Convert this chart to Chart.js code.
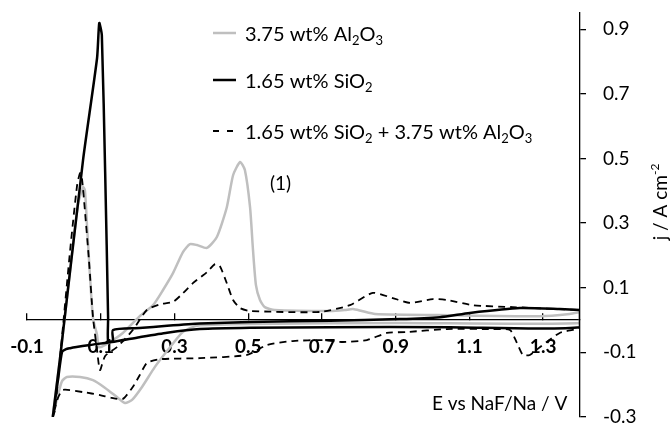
<!DOCTYPE html>
<html>
<head>
<meta charset="utf-8">
<script src="https://cdn.jsdelivr.net/npm/chart.js@4.4.1/dist/chart.umd.min.js"></script>
<style>
  html, body { margin: 0; padding: 0; background: #fff; }
</style>
</head>
<body>
<canvas id="cv" width="670" height="425"></canvas>
<script>
// --- Data ---
const seriesNames = ['3.75 wt% Al_{2}O_{3}', '1.65 wt% SiO_{2}', '1.65 wt% SiO_{2} + 3.75 wt% Al_{2}O_{3}'];
const xTicks = [-0.1, 0.1, 0.3, 0.5, 0.7, 0.9, 1.1, 1.3];
const yTicks = [-0.3, -0.1, 0.1, 0.3, 0.5, 0.7, 0.9];
const xTitle = 'E vs NaF/Na / V';
const yTitle = 'j / A cm^{-2}';
const peakNote = '(1)';

// 3.75 wt% Al2O3 (grey)
const alE = [1.4, 1.4, 0.911, 0.505, 0.369, 0.342, 0.320, 0.282, 0.247, 0.212, 0.185, 0.166, 0.147, 0.112, 0.079, 0.044, 0.008, -0.005, -0.016, -0.030,
  -0.011, 0.017, 0.038, 0.052, 0.057, 0.063, 0.071, 0.079, 0.090, 0.095, 0.112, 0.160, 0.206, 0.242, 0.269, 0.296, 0.323, 0.342, 0.361, 0.388, 0.415, 0.442, 0.459, 0.478, 0.491, 0.505, 0.513, 0.521, 0.532, 0.545, 0.572, 0.722, 0.762, 0.784, 0.808, 0.844, 1.047, 1.291, 1.372, 1.4];
const alJ = [0.025, -0.009, -0.009, -0.012, -0.016, -0.025, -0.040, -0.093, -0.145, -0.207, -0.247, -0.257, -0.241, -0.210, -0.186, -0.176, -0.176, -0.189, -0.232, -0.300,
  -0.124, 0.155, 0.356, 0.411, 0.402, 0.288, 0.133, 0.006, -0.046, -0.084, -0.077, -0.040, 0.012, 0.046, 0.093, 0.145, 0.210, 0.235, 0.232, 0.223, 0.257, 0.349, 0.448, 0.489, 0.464, 0.349, 0.217, 0.108, 0.062, 0.040, 0.031, 0.028, 0.031, 0.034, 0.028, 0.019, 0.015, 0.012, 0.019, 0.025];

// 1.65 wt% SiO2 (black solid)
const siE = [1.4, 1.4, 1.047, 0.722, 0.505, 0.369, 0.280, 0.205, 0.130, 0.071, 0.030, 0.017, 0.006, -0.005, -0.016, -0.030,
  -0.011, 0.052, 0.090, 0.096, 0.103, 0.112, 0.120, 0.120, 0.133, 0.133, 0.205, 0.280, 0.369, 0.505, 0.722, 0.911, 1.020, 1.101, 1.237, 1.345, 1.4];
const siJ = [0.031, -0.022, -0.022, -0.022, -0.024, -0.028, -0.039, -0.053, -0.068, -0.077, -0.084, -0.087, -0.090, -0.099, -0.186, -0.300,
  -0.124, 0.495, 0.810, 0.919, 0.881, 0.458, 0.006, -0.065, -0.065, -0.031, -0.025, -0.018, -0.011, -0.006, -0.002, 0.003, 0.009, 0.022, 0.037, 0.034, 0.031];

// 1.65 wt% SiO2 + 3.75 wt% Al2O3 (dashed)
const mixE = [1.4, 1.4, 1.345, 1.291, 1.264, 1.245, 1.229, 1.210, 1.164, 1.039, 0.930, 0.876, 0.822, 0.757, 0.703, 0.621, 0.551, 0.497, 0.369, 0.261, 0.225, 0.206, 0.187, 0.160, 0.130, 0.098, 0.052, -0.002, -0.016, -0.030,
  -0.024, -0.002, 0.017, 0.036, 0.044, 0.049, 0.057, 0.068, 0.079, 0.090, 0.098, 0.112, 0.144, 0.187, 0.225, 0.261, 0.296, 0.323, 0.350, 0.388, 0.410, 0.423, 0.442, 0.459, 0.478, 0.505, 0.694, 0.776, 0.838, 0.892, 0.939, 1.001, 1.039, 1.109, 1.218, 1.4];
const mixJ = [0.031, -0.022, -0.040, -0.084, -0.108, -0.108, -0.071, -0.031, -0.028, -0.028, -0.037, -0.040, -0.062, -0.068, -0.062, -0.065, -0.077, -0.108, -0.118, -0.121, -0.133, -0.170, -0.207, -0.244, -0.241, -0.232, -0.223, -0.216, -0.241, -0.300,
  -0.278, -0.015, 0.216, 0.418, 0.455, 0.439, 0.340, 0.186, 0.009, -0.093, -0.155, -0.111, -0.084, -0.031, 0.031, 0.049, 0.056, 0.083, 0.114, 0.148, 0.173, 0.167, 0.114, 0.062, 0.037, 0.028, 0.025, 0.046, 0.084, 0.068, 0.053, 0.065, 0.062, 0.046, 0.040, 0.031];

const pts = (xs, ys) => xs.map((x, i) => ({ x: x, y: ys[i] }));
const FONT = 'Lato';

// small helper: text with _{sub} and ^{sup}
function richParts(s) {
  const parts = [];
  const re = /([_^])\{([^}]*)\}/g;
  let last = 0, m;
  while ((m = re.exec(s))) {
    if (m.index > last) parts.push({ t: s.slice(last, m.index), k: 'n' });
    parts.push({ t: m[2], k: m[1] === '_' ? 'sub' : 'sup' });
    last = re.lastIndex;
  }
  if (last < s.length) parts.push({ t: s.slice(last), k: 'n' });
  return parts;
}
function drawRich(ctx, s, x, y, size, align) {
  const parts = richParts(s);
  const small = Math.round(size * 0.65);
  let w = 0;
  parts.forEach(p => {
    ctx.font = (p.k === 'n' ? size : small) + 'px ' + FONT;
    p.w = ctx.measureText(p.t).width;
    w += p.w;
  });
  let cx = align === 'center' ? x - w / 2 : x;
  parts.forEach(p => {
    ctx.font = (p.k === 'n' ? size : small) + 'px ' + FONT;
    const dy = p.k === 'sub' ? size * 0.22 : p.k === 'sup' ? -size * 0.42 : 0;
    ctx.fillText(p.t, cx, y + dy);
    cx += p.w;
  });
}

const textPlugin = {
  id: 'texts',
  afterDraw(chart) {
    const ctx = chart.ctx;
    ctx.save();
    ctx.fillStyle = '#000';
    ctx.textBaseline = 'alphabetic';
    ctx.textAlign = 'left';

    // legend
    const rows = [33, 80, 131];
    chart.data.datasets.forEach((ds, i) => {
      ctx.strokeStyle = ds.borderColor;
      ctx.lineWidth = ds.borderWidth;
      ctx.setLineDash(ds.borderDash ? [6, 8] : []);
      ctx.beginPath();
      ctx.moveTo(213, rows[i]);
      ctx.lineTo(236, rows[i]);
      ctx.stroke();
      ctx.setLineDash([]);
      drawRich(ctx, seriesNames[i], 245, rows[i] + 7.5, 20, 'left');
    });

    drawRich(ctx, peakNote, 270, 190, 19, 'left');
    drawRich(ctx, xTitle, 432, 410, 19, 'left');

    ctx.translate(667, 202);
    ctx.rotate(-Math.PI / 2);
    drawRich(ctx, yTitle, 0, 0, 19, 'center');
    ctx.restore();
  }
};

new Chart(document.getElementById('cv').getContext('2d'), {
  type: 'scatter',
  data: {
    datasets: [
      { label: '3.75 wt% Al2O3', data: pts(alE, alJ), showLine: true, borderColor: '#bfbfbf', borderWidth: 2.5, order: 2 },
      { label: '1.65 wt% SiO2', data: pts(siE, siJ), showLine: true, borderColor: '#000', borderWidth: 2.5, order: 0 },
      { label: '1.65 wt% SiO2 + 3.75 wt% Al2O3', data: pts(mixE, mixJ), showLine: true, borderColor: '#000', borderWidth: 1.8, borderDash: [7, 5], order: 1 }
    ]
  },
  options: {
    responsive: false,
    animation: false,
    layout: { padding: { left: 27, top: 13, right: 0, bottom: 8 } },
    elements: { point: { radius: 0, hoverRadius: 0 }, line: { tension: 0.2 } },
    plugins: { legend: { display: false }, tooltip: { enabled: false } },
    scales: {
      x: {
        type: 'linear', min: -0.1, max: 1.4,
        position: { y: 0 },
        afterBuildTicks: s => { s.ticks = xTicks.map(v => ({ value: v })); },
        afterFit: s => { s.paddingLeft = 0; s.paddingRight = 0; },
        grid: { drawOnChartArea: false, drawTicks: true, tickLength: -7, color: '#000', lineWidth: 1.3 },
        border: { display: true, color: '#000', width: 1.3 },
        ticks: { color: '#000', padding: 22, maxRotation: 0, autoSkip: false,
          font: { family: FONT, size: 19, weight: 'bold' },
          callback: v => v.toFixed(1) }
      },
      y: {
        type: 'linear', min: -0.3, max: 0.95,
        position: 'right',
        afterBuildTicks: s => { s.ticks = yTicks.map(v => ({ value: v })); },
        afterFit: s => { s.width = 90; s.paddingTop = 0; s.paddingBottom = 0; },
        grid: { drawOnChartArea: false, drawTicks: true, tickLength: 6, color: '#000', lineWidth: 1.3 },
        border: { display: true, color: '#000', width: 1.3 },
        ticks: { color: '#000', padding: 17, autoSkip: false,
          font: { family: FONT, size: 19 },
          callback: v => v.toFixed(1) }
      }
    }
  },
  plugins: [textPlugin]
});
</script>
</body>
</html>
